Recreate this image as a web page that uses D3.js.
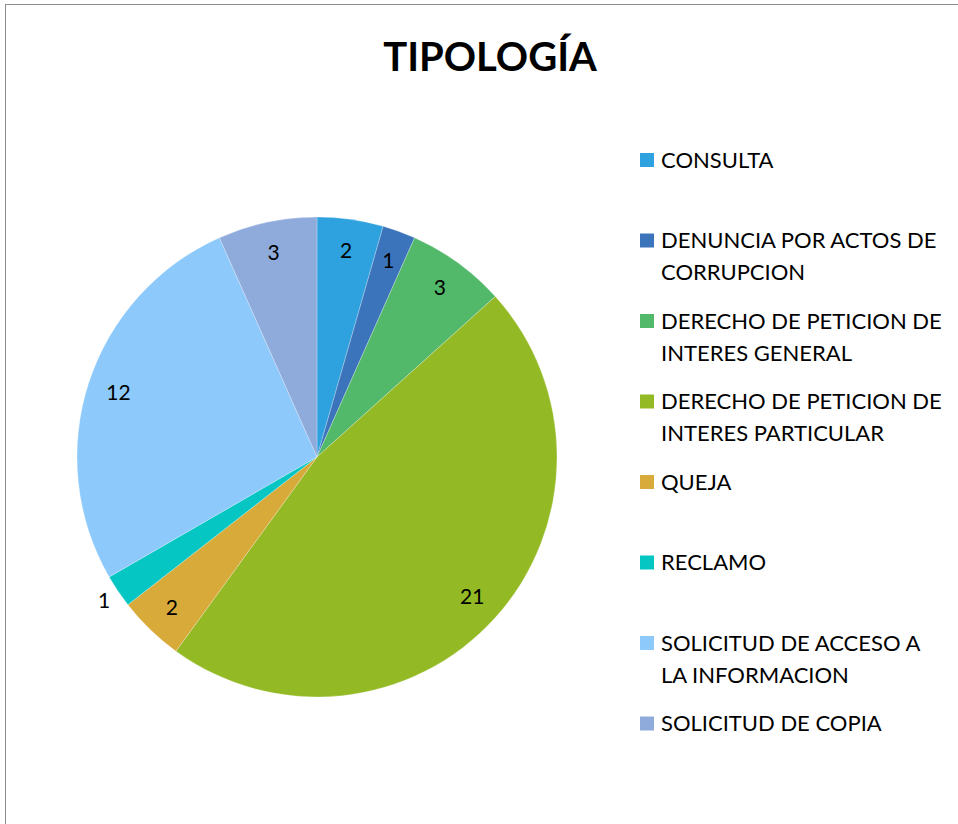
<!DOCTYPE html>
<html>
<head>
<meta charset="utf-8">
<script src="https://cdn.jsdelivr.net/npm/d3@7"></script>
<style>
  body { margin: 0; background: #fff; }
  text { font-family: Lato, "Open Sans", sans-serif; fill: #000; }
</style>
</head>
<body>
<div id="chart"></div>
<script>
// chart data
const categories = [
    "CONSULTA",
    "DENUNCIA POR ACTOS DE CORRUPCION",
    "DERECHO DE PETICION DE INTERES GENERAL",
    "DERECHO DE PETICION DE INTERES PARTICULAR",
    "QUEJA",
    "RECLAMO",
    "SOLICITUD DE ACCESO A LA INFORMACION",
    "SOLICITUD DE COPIA"
];
const legendLines = [
    ["CONSULTA"],
    ["DENUNCIA POR ACTOS DE", "CORRUPCION"],
    ["DERECHO DE PETICION DE", "INTERES GENERAL"],
    ["DERECHO DE PETICION DE", "INTERES PARTICULAR"],
    ["QUEJA"],
    ["RECLAMO"],
    ["SOLICITUD DE ACCESO A", "LA INFORMACION"],
    ["SOLICITUD DE COPIA"]
];
const values = [2, 1, 3, 21, 2, 1, 12, 3];
const colors = ["#2ea1df", "#3c74bc", "#52b86a", "#93b924", "#d8aa3a", "#05c6c2", "#8dcafb", "#8fabdc"];
const chartTitle = "TIPOLOGÍA";

const width = 958, height = 824;

const svg = d3.select("#chart")
    .append("svg")
    .attr("width", width)
    .attr("height", height);

// outer frame (runs off the right/bottom edge like the screenshot)
svg.append("rect")
    .attr("x", 5.5)
    .attr("y", 4.5)
    .attr("width", width + 10)
    .attr("height", height + 10)
    .style("fill", "#fff")
    .style("stroke", "#8c8c8c")
    .style("stroke-width", 1);

svg.append("text")
    .attr("x", 490)
    .attr("y", 71)
    .attr("text-anchor", "middle")
    .style("font-size", "40px")
    .style("font-weight", "bold")
    .text(chartTitle);

// pie
const cx = 317, cy = 457, radius = 240;

const color = d3.scaleOrdinal()
    .domain(categories)
    .range(colors);

const pie = d3.pie()
    .sort(null)
    .value(function(d) { return d.value; });

const data = categories.map(function(c, i) { return {name: c, value: values[i]}; });
const arcs = pie(data);

const arc = d3.arc().innerRadius(0).outerRadius(radius);
const labelArc = d3.arc().innerRadius(radius * 0.87).outerRadius(radius * 0.87);
const outerLabelArc = d3.arc().innerRadius(radius * 1.07).outerRadius(radius * 1.07);

const g = svg.append("g")
    .attr("transform", "translate(" + cx + "," + cy + ")");

g.selectAll(".slice")
    .data(arcs)
    .enter().append("path")
    .attr("class", "slice")
    .attr("d", arc)
    .style("fill", function(d) { return color(d.data.name); })
    .style("stroke", "#fff")
    .style("stroke-opacity", 0.5)
    .style("stroke-width", 0.5);

// RECLAMO label sits outside the pie in the original
g.selectAll(".slice-label")
    .data(arcs)
    .enter().append("text")
    .attr("class", "slice-label")
    .attr("transform", function(d) {
        let a = d.data.name === "RECLAMO" ? outerLabelArc : labelArc;
        return "translate(" + a.centroid(d) + ")";
    })
    .attr("text-anchor", "middle")
    .attr("dy", "0.35em")
    .style("font-size", "21px")
    .text(function(d) { return d.data.value; });

// legend
const legend = svg.append("g")
    .attr("transform", "translate(640,160)");

const rowStep = 80.5, lineStep = 32;

const items = legend.selectAll(".legend-item")
    .data(categories)
    .enter().append("g")
    .attr("class", "legend-item")
    .attr("transform", function(d, i) { return "translate(0," + (i * rowStep) + ")"; });

items.append("rect")
    .attr("x", 0)
    .attr("y", -7)
    .attr("width", 14)
    .attr("height", 14)
    .style("fill", function(d) { return color(d); });

items.each(function(d, i) {
    let t = d3.select(this).append("text")
        .attr("x", 21)
        .attr("y", 0)
        .style("font-size", "22px");
    legendLines[i].forEach(function(line, j) {
        t.append("tspan")
            .attr("x", 21)
            .attr("y", j * lineStep)
            .attr("dy", "0.35em")
            .text(line);
    });
});
</script>
</body>
</html>
